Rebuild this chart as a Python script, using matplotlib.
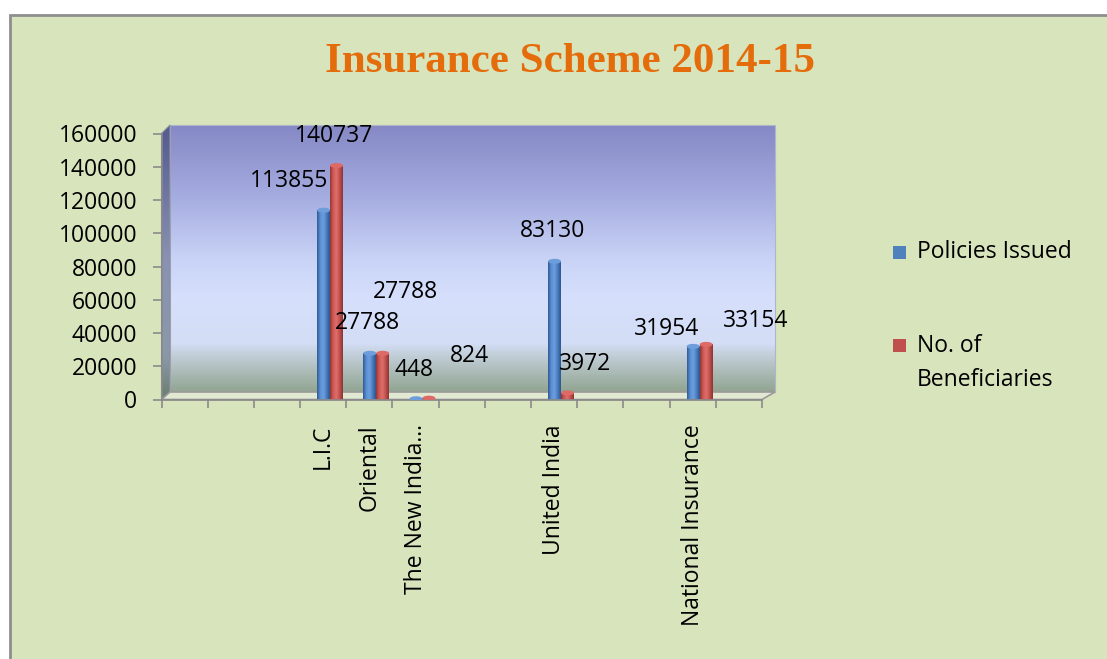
import numpy as np
import matplotlib
matplotlib.use("Agg")
import matplotlib.pyplot as plt
from matplotlib.patches import Polygon, Rectangle, Ellipse
from matplotlib.colors import LinearSegmentedColormap

# data (blank categories are empty rows in the source sheet)
categories = ['', '', '', 'L.I.C', 'Oriental', 'The New India...', '', '', 'United India', '', '',
              'National Insurance', '']
nan = np.nan
policies_issued = [nan, nan, nan, 113855, 27788, 448, nan, nan, 83130, nan, nan, 31954, nan]
beneficiaries = [nan, nan, nan, 140737, 27788, 824, nan, nan, 3972, nan, nan, 33154, nan]
series_names = ['Policies Issued', 'No. of\nBeneficiaries']
y_ticks = [0, 20000, 40000, 60000, 80000, 100000, 120000, 140000, 160000]
title = 'Insurance Scheme 2014-15'

# where excel dropped the data labels (pixels from the bar top)
blue_label_offsets = {3: (-35, 29), 4: (-2, 30), 5: (-2, 29), 8: (-2, 30), 11: (-27, 17)}
red_label_offsets = {3: (-3, 30), 4: (23, 61), 5: (40, 42), 8: (18, 29), 11: (50, 23)}

W, H = 1107, 659
FONT = 'Open Sans'
FS = 16.5

blue_cmap = LinearSegmentedColormap.from_list('b', ['#2f5b96', '#5b8fd2', '#6c9fe0', '#4a7cbc', '#2c5590'])
red_cmap = LinearSegmentedColormap.from_list('r', ['#963633', '#cf5b57', '#e06e6a', '#c0504d', '#8e3330'])
wall_cmap = LinearSegmentedColormap.from_list('w', [
    (0.0, '#8588c5'), (0.28, '#a7aee1'), (0.5, '#c9d3f6'), (0.65, '#d6e0fc'),
    (0.82, '#d3ddf5'), (0.87, '#c0ccd4'), (1.0, '#91a591')])
side_cmap = LinearSegmentedColormap.from_list('s', [
    (0.0, '#545990'), (0.5, '#8a92b4'), (0.85, '#8a98a8'), (1.0, '#6b7e6c')])

fig = plt.figure(figsize=(W / 100, H / 100), dpi=100, facecolor='white')

# background layer drawn in pixel coordinates
bg = fig.add_axes([0, 0, 1, 1], zorder=0)
bg.set_xlim(0, W)
bg.set_ylim(H, 0)
bg.axis('off')
bg.add_patch(Rectangle((10, 15), W, H, facecolor='#d8e4bc', edgecolor='#8e8e8e', lw=2))

# 3d back wall, side wall and floor
grad = np.linspace(0, 1, 256).reshape(-1, 1)
bg.imshow(grad, cmap=wall_cmap, extent=(170, 775, 392, 125), aspect='auto', zorder=2)
bg.add_patch(Rectangle((170, 125), 605, 267, fill=False, edgecolor='#b0b6c8', lw=0.8, zorder=3))
side = Polygon([(161.5, 133.5), (170, 125), (170, 392), (161.5, 399.5)], closed=True,
               facecolor='none', edgecolor='#8a8f9e', lw=0.8, zorder=3)
bg.add_patch(side)
im = bg.imshow(grad, cmap=side_cmap, extent=(161.5, 170, 399.5, 125), aspect='auto', zorder=2)
im.set_clip_path(side)
bg.add_patch(Polygon([(161.5, 399.5), (170, 392), (775, 392), (762, 399.5)], closed=True,
                     facecolor='#e2e9d3', edgecolor='#9a9a9a', lw=1.2, zorder=3))

fig.text(570 / W, 1 - 62 / H, title, ha='center', va='center', color='#e46c0a',
         fontsize=31, fontweight='bold', family='Liberation Serif')

ax = fig.add_axes([161.5 / W, 1 - 399.5 / H, (762 - 161.5) / W, (399.5 - 133.5) / H], zorder=2)
ax.set_facecolor('none')

x = np.arange(len(categories))
bw = 0.28
shift = 0.15
b1 = ax.bar(x + shift - bw / 2, policies_issued, bw, color='#4f81bd')
b2 = ax.bar(x + shift + bw / 2, beneficiaries, bw, color='#c0504d')

ax.set_xlim(-0.5, len(categories) - 0.5)
ax.set_ylim(0, 160000)

# cylinder look: horizontal shading plus a flat cap on top
hgrad = np.linspace(0, 1, 64).reshape(1, -1)
cap_h = 160000 * 5 / 266
for bars, cmap, capc in ((b1, blue_cmap, '#6d9ddb'), (b2, red_cmap, '#dd6a66')):
    for p in bars:
        if np.isnan(p.get_height()):
            continue
        img = ax.imshow(hgrad, cmap=cmap, aspect='auto', zorder=3,
                        extent=(p.get_x(), p.get_x() + p.get_width(), 0, p.get_height()))
        img.set_clip_path(p)
        ax.add_patch(Ellipse((p.get_x() + p.get_width() / 2, p.get_height()), p.get_width(), cap_h,
                             facecolor=capc, edgecolor='none', zorder=4))
ax.set_xlim(-0.5, len(categories) - 0.5)
ax.set_ylim(0, 160000)

for bars, vals, offs in ((b1, policies_issued, blue_label_offsets), (b2, beneficiaries, red_label_offsets)):
    for i, (dx, dy) in offs.items():
        p = bars[i]
        ax.annotate(f'{vals[i]}', xy=(p.get_x() + p.get_width() / 2, vals[i]), xytext=(dx, dy),
                    textcoords='offset pixels', ha='center', va='center', fontsize=FS,
                    family=FONT, zorder=5, annotation_clip=False)

ax.set_yticks(y_ticks)
ax.set_yticklabels([str(v) for v in y_ticks], fontsize=FS, family=FONT)
ax.set_xticks(x)
ax.set_xticklabels(categories, rotation=90, fontsize=FS, family=FONT, va='top')
ax.set_xticks(np.arange(len(categories) + 1) - 0.5, minor=True)
ax.tick_params(axis='x', which='major', length=0, pad=18)
ax.tick_params(axis='x', which='minor', length=6, width=1.2, color='#8a8a8a', direction='out')
ax.tick_params(axis='y', length=6.5, width=1.2, color='#8a8a8a', pad=11)
for s in ('top', 'right'):
    ax.spines[s].set_visible(False)
for s in ('left', 'bottom'):
    ax.spines[s].set_color('#8a8a8a')
    ax.spines[s].set_linewidth(1.2)

# legend
bg.add_patch(Rectangle((893, 246), 13, 13, facecolor='#4f81bd', edgecolor='none', zorder=4))
bg.add_patch(Rectangle((893, 339), 13, 13, facecolor='#c0504d', edgecolor='none', zorder=4))
bg.text(917, 252, series_names[0], ha='left', va='center', fontsize=FS, family=FONT, zorder=4)
bg.text(917, 363, series_names[1], ha='left', va='center', fontsize=FS, family=FONT,
        linespacing=1.5, zorder=4)

fig.savefig('out.png', dpi=100)
